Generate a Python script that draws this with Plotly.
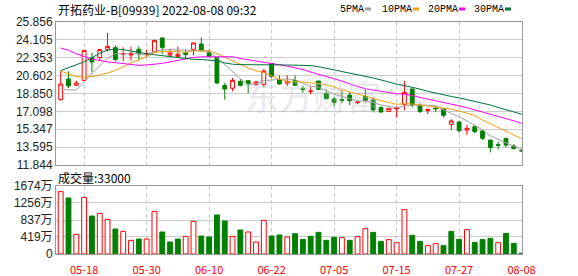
import plotly.graph_objects as go

dates = ["2022-05-13","2022-05-16","2022-05-17","2022-05-18","2022-05-19","2022-05-20","2022-05-23","2022-05-24","2022-05-25","2022-05-26",
         "2022-05-27","2022-05-30","2022-05-31","2022-06-01","2022-06-02","2022-06-06","2022-06-07","2022-06-08","2022-06-09","2022-06-10",
         "2022-06-13","2022-06-14","2022-06-15","2022-06-16","2022-06-17","2022-06-20","2022-06-21","2022-06-22","2022-06-23","2022-06-24",
         "2022-06-27","2022-06-28","2022-06-29","2022-06-30","2022-07-04","2022-07-05","2022-07-06","2022-07-07","2022-07-08","2022-07-11",
         "2022-07-12","2022-07-13","2022-07-14","2022-07-15","2022-07-18","2022-07-19","2022-07-20","2022-07-21","2022-07-22","2022-07-25",
         "2022-07-26","2022-07-27","2022-07-28","2022-07-29","2022-08-01","2022-08-02","2022-08-03","2022-08-04","2022-08-05","2022-08-08"]

open_ = [18.25,20.27,19.65,20.14,22.33,22.36,23.18,23.34,22.69,22.62,23.18,22.66,22.92,24.29,22.62,22.49,22.85,23.18,23.70,22.85,
         22.39,19.65,19.36,20.04,20.11,19.75,19.75,21.81,20.21,19.88,20.11,19.32,19.03,20.07,18.83,18.31,18.25,18.70,17.95,18.54,
         18.21,17.49,17.10,17.33,17.79,19.29,17.69,17.17,17.43,17.33,15.83,16.06,15.27,15.60,15.18,14.29,13.84,14.46,13.71,13.28]
high = [21.02,21.02,20.11,23.08,22.85,23.15,24.78,23.57,23.37,23.44,23.47,23.15,24.06,24.35,23.24,23.47,23.15,23.86,24.35,23.18,
        22.46,19.88,20.37,20.24,20.17,20.08,21.25,21.81,20.63,20.63,20.63,19.62,19.52,20.11,19.26,18.54,19.13,19.03,18.21,19.26,
        18.47,17.56,17.43,17.60,20.07,19.36,17.89,17.33,17.56,17.40,16.32,16.09,15.76,15.76,15.27,14.29,14.13,14.49,13.90,13.38]
low = [18.15,19.39,19.65,20.08,20.96,22.00,22.98,22.00,22.00,22.07,22.10,22.43,22.85,22.72,22.43,22.36,22.26,22.59,22.98,22.39,
       19.78,18.25,19.06,19.55,18.90,19.59,19.46,20.37,19.72,19.59,19.59,18.93,18.77,19.19,18.28,17.63,17.89,17.69,17.79,17.95,
       17.00,16.97,17.07,16.48,17.23,17.49,16.97,16.84,17.04,16.51,15.27,15.01,14.78,14.95,14.29,13.08,13.38,13.57,13.41,13.18]
close = [19.78,19.59,19.88,23.08,21.94,23.15,23.47,22.17,22.72,22.75,22.72,22.75,24.06,23.37,22.82,22.69,22.66,23.80,23.08,22.49,
         19.88,19.29,20.14,19.65,19.78,19.98,21.06,20.53,19.78,20.04,19.65,19.25,19.09,19.25,18.34,17.98,18.18,18.15,18.02,18.15,
         17.23,17.04,17.40,17.43,18.96,17.72,17.07,17.30,17.36,16.71,16.16,15.21,15.44,15.11,14.46,13.57,13.77,13.80,13.44,13.22]

ma5 = [19.35,19.20,19.20,19.95,20.85,21.53,22.30,22.76,22.69,22.85,22.77,22.62,23.00,23.13,23.14,23.14,23.12,23.07,23.01,22.94,
       22.38,21.71,20.98,20.29,19.75,19.77,20.12,20.20,20.23,20.28,20.21,19.85,19.56,19.46,19.12,18.78,18.57,18.38,18.13,18.10,
       17.95,17.72,17.57,17.45,17.61,17.71,17.72,17.70,17.68,17.23,16.92,16.55,16.18,15.73,15.28,14.70,14.35,14.00,13.68,13.42]
ma10 = [21.05,20.75,20.50,20.45,20.50,20.65,20.85,21.10,21.45,21.85,22.15,22.46,22.88,22.91,23.00,22.95,22.87,23.03,23.07,23.04,
        22.76,22.41,22.02,21.65,21.35,21.08,20.92,20.59,20.26,20.01,19.99,19.99,19.88,19.84,19.70,19.50,19.21,18.97,18.80,18.61,
        18.36,18.14,17.97,17.79,17.85,17.83,17.72,17.63,17.57,17.42,17.32,17.13,16.94,16.70,16.25,15.84,15.51,15.16,14.77,14.42]
ma20 = [23.31,23.08,22.75,22.49,22.20,22.10,21.94,21.87,21.77,21.68,21.61,21.65,21.70,21.80,21.95,22.10,22.25,22.38,22.45,22.45,
        22.45,22.44,22.45,22.28,22.17,22.01,21.89,21.81,21.66,21.53,21.38,21.20,20.95,20.75,20.52,20.29,20.06,19.78,19.53,19.31,
        19.18,19.06,18.93,18.82,18.78,18.66,18.46,18.30,18.18,18.01,17.84,17.64,17.46,17.25,17.05,16.83,16.61,16.40,16.17,15.92]
ma30 = [21.10,21.40,21.65,21.95,22.35,22.80,23.10,23.20,23.15,23.00,22.85,22.75,22.65,22.55,22.45,22.35,22.25,22.20,22.18,22.15,
        22.05,21.85,21.72,21.68,21.66,21.65,21.66,21.66,21.65,21.64,21.63,21.62,21.59,21.47,21.35,21.17,21.00,20.86,20.71,20.55,
        20.37,20.18,19.96,19.76,19.63,19.47,19.28,19.06,18.87,18.68,18.56,18.42,18.26,18.11,17.94,17.72,17.48,17.25,17.04,16.82]

volume = [1535,1379,484,1395,935,1001,853,615,558,336,369,369,1050,542,295,369,435,804,443,418,
          960,812,435,591,542,295,829,443,468,418,500,358,435,533,336,410,402,336,426,623,
          533,312,353,279,1091,459,312,205,254,205,558,361,599,287,353,385,279,508,262,20]
vol_dir = ["u","d","u","u","d","u","u","d","u","u","d","u","u","d","d","d","u","u","d","d",
           "d","d","u","d","u","u","u","d","d","u","d","d","d","d","d","d","u","d","u","u",
           "d","d","u","u","u","d","d","u","u","d","d","d","u","d","d","d","u","d","d","d"]

price_ticks = [11.844,13.595,15.347,17.098,18.850,20.602,22.353,24.105,25.856]
vol_ticks = [0,419,837,1256,1674]
vol_tick_text = ["0","419万","837万","1256万","1674万"]
x_tick_dates = ["2022-05-18","2022-05-30","2022-06-10","2022-06-22","2022-07-05","2022-07-15","2022-07-27","2022-08-08"]
x_tick_text = ["05-18","05-30","06-10","06-22","07-05","07-15","07-27","08-08"]
ma_names = ["5PMA","10PMA","20PMA","30PMA"]
ma_colors = ["#a0a0a0","#f0a010","#ff00ff","#00703c"]

title_text = "开拓药业-B[09939] 2022-08-08 09:32"
vol_label = "成交量:33000"

RED = "#ff0000"
GREEN = "#008000"
W, H = 578, 276
L, R, T, B = 56, 56, 22, 22
PW, PH = W - L - R, H - T - B


def pxx(px):
    return (px - L) / PW


def pxy(py):
    return (H - B - py) / PH


fig = go.Figure()
fig.add_trace(go.Candlestick(
    x=dates, open=open_, high=high, low=low, close=close,
    increasing=dict(line=dict(color=RED, width=1), fillcolor="#ffffff"),
    decreasing=dict(line=dict(color=GREEN, width=1), fillcolor=GREEN),
    whiskerwidth=0, hoverinfo="skip", showlegend=False, xaxis="x", yaxis="y"))

for name, vals, col in zip(ma_names, [ma5, ma10, ma20, ma30], ma_colors):
    fig.add_trace(go.Scatter(x=dates, y=vals, mode="lines", name=name,
                             line=dict(color=col, width=1), hoverinfo="skip",
                             showlegend=False, xaxis="x", yaxis="y"))

fig.add_trace(go.Bar(
    x=dates, y=volume, width=0.62,
    marker=dict(color=["#ffffff" if d == "u" else GREEN for d in vol_dir],
                line=dict(color=[RED if d == "u" else GREEN for d in vol_dir], width=1)),
    hoverinfo="skip", showlegend=False, xaxis="x2", yaxis="y2"))

main_dom = [pxy(165), 1.0]
vol_dom = [0.0, pxy(186)]
tick_font = dict(family="Liberation Sans, Arial, Noto Sans CJK SC", size=12, color="#222222")
xr = [-0.6, len(dates) - 0.95]

common_x = dict(type="category", range=xr, showline=True, mirror=True, linecolor="#999999", linewidth=1,
                tickmode="array", tickvals=x_tick_dates, ticktext=x_tick_text,
                showgrid=True, gridcolor="#cccccc", griddash="4px,3px", gridwidth=1,
                zeroline=False, fixedrange=True, automargin=False)

fig.update_layout(
    width=W, height=H, margin=dict(l=L, r=R, t=T, b=B, autoexpand=False),
    paper_bgcolor="#ffffff", plot_bgcolor="#ffffff",
    boxgap=0.3,
    xaxis=dict(common_x, anchor="y", showticklabels=False, ticks="", rangeslider=dict(visible=False)),
    xaxis2=dict(common_x, anchor="y2", matches="x", showticklabels=True, ticks="outside", ticklen=6,
                tickcolor="rgba(255,255,255,0)",
                tickfont=dict(family="Noto Sans CJK SC", size=11, color=RED)),
    yaxis=dict(domain=main_dom, range=[price_ticks[0], price_ticks[-1]], tickmode="array",
               tickvals=price_ticks, ticktext=["%.3f" % v for v in price_ticks],
               showline=True, mirror=True, linecolor="#999999", linewidth=1,
               showgrid=True, gridcolor="#cccccc", zeroline=False, ticks="", tickfont=tick_font,
               fixedrange=True, automargin=False),
    yaxis2=dict(domain=vol_dom, range=[vol_ticks[0], vol_ticks[-1]], tickmode="array",
                tickvals=vol_ticks, ticktext=vol_tick_text,
                showline=True, mirror=True, linecolor="#999999", linewidth=1,
                showgrid=True, gridcolor="#cccccc", zeroline=False, ticks="", tickfont=tick_font,
                fixedrange=True, automargin=False),
)

annotations = [
    dict(text=title_text, x=pxx(56), y=pxy(9.5), xref="paper", yref="paper", xanchor="left", yanchor="middle",
         showarrow=False, font=dict(family="Noto Sans CJK SC", size=12, color="#000000")),
    dict(text=vol_label, x=pxx(56), y=pxy(177), xref="paper", yref="paper", xanchor="left", yanchor="middle",
         showarrow=False, font=dict(family="Noto Sans CJK SC", size=12, color="#000000")),
    dict(text="东方财富", x=pxx(313), y=pxy(95), xref="paper", yref="paper", xanchor="center", yanchor="middle",
         showarrow=False, font=dict(family="Noto Sans CJK SC", size=34, color="rgba(190,190,200,0.35)"),
         textangle=0),
]
legend_text_x = [338, 380, 426, 472]
legend_mark_x = [365, 413, 459, 505]
shapes = []
for name, col, tx, mx in zip(ma_names, ma_colors, legend_text_x, legend_mark_x):
    annotations.append(dict(text=name, x=pxx(tx), y=pxy(9.5), xref="paper", yref="paper",
                            xanchor="left", yanchor="middle", showarrow=False,
                            font=dict(family="Liberation Mono", size=10, color="#000000")))
    shapes.append(dict(type="rect", xref="paper", yref="paper", x0=pxx(mx), x1=pxx(mx + 6),
                       y0=pxy(10.5), y1=pxy(7.5), fillcolor=col, line=dict(width=0)))

fig.update_layout(annotations=annotations, shapes=shapes)
fig.write_html("out.html", config={"displayModeBar": False, "staticPlot": True})
